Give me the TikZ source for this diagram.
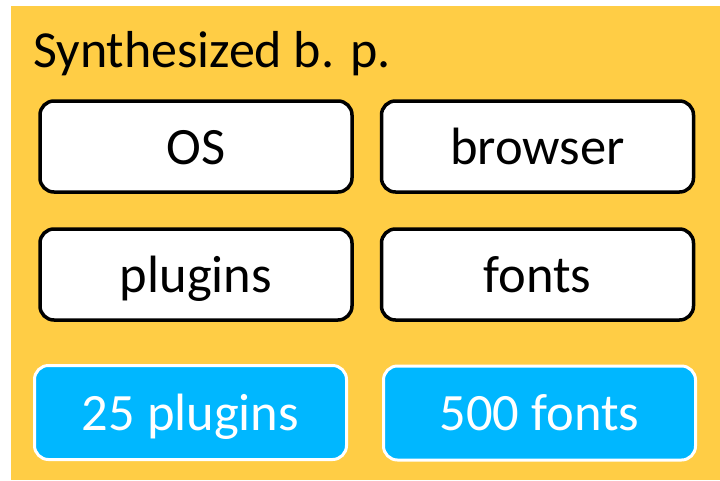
\documentclass[tikz,border=0pt]{standalone}
\usepackage{fontspec}
\setmainfont{Carlito}
\definecolor{panelyellow}{RGB}{255,205,69}
\definecolor{countblue}{RGB}{0,183,255}
\begin{document}
\begin{tikzpicture}[x=1pt,y=-1pt,
  bigtext/.style={font=\fontsize{52.5}{62}\selectfont},
  boxtext/.style={bigtext, text height=42pt, text depth=7pt},
  field/.style={boxtext, draw=black, line width=3.5pt, fill=white,
    rounded corners=14pt, minimum width=312pt, minimum height=91pt,
    inner sep=0pt},
  countbox/.style={boxtext, draw=white, line width=3pt, fill=countblue,
    text=white, rounded corners=14pt, minimum width=312pt,
    minimum height=94pt, inner sep=0pt}]
  \useasboundingbox (0,0) rectangle (720,480);
  % panel
  \fill[panelyellow] (11,6) rectangle (720,480);
  \node[font=\fontsize{52}{62}\selectfont, anchor=base west, inner sep=0pt] (title) at (33,67) {Synthesized b. p.};
  % attribute fields
  \node[field] (os) at (196,146.5) {OS};
  \node[field] (browser) at (537.5,146.5) {browser};
  \node[field] (plugins) at (196,274.5) {plugins};
  \node[field] (fonts) at (537.5,274.5) {fonts};
  % counts
  \node[countbox] (nplugins) at (190.5,412.5) {25 plugins};
  \node[countbox] (nfonts) at (539.5,413) {500 fonts};
\end{tikzpicture}
\end{document}
